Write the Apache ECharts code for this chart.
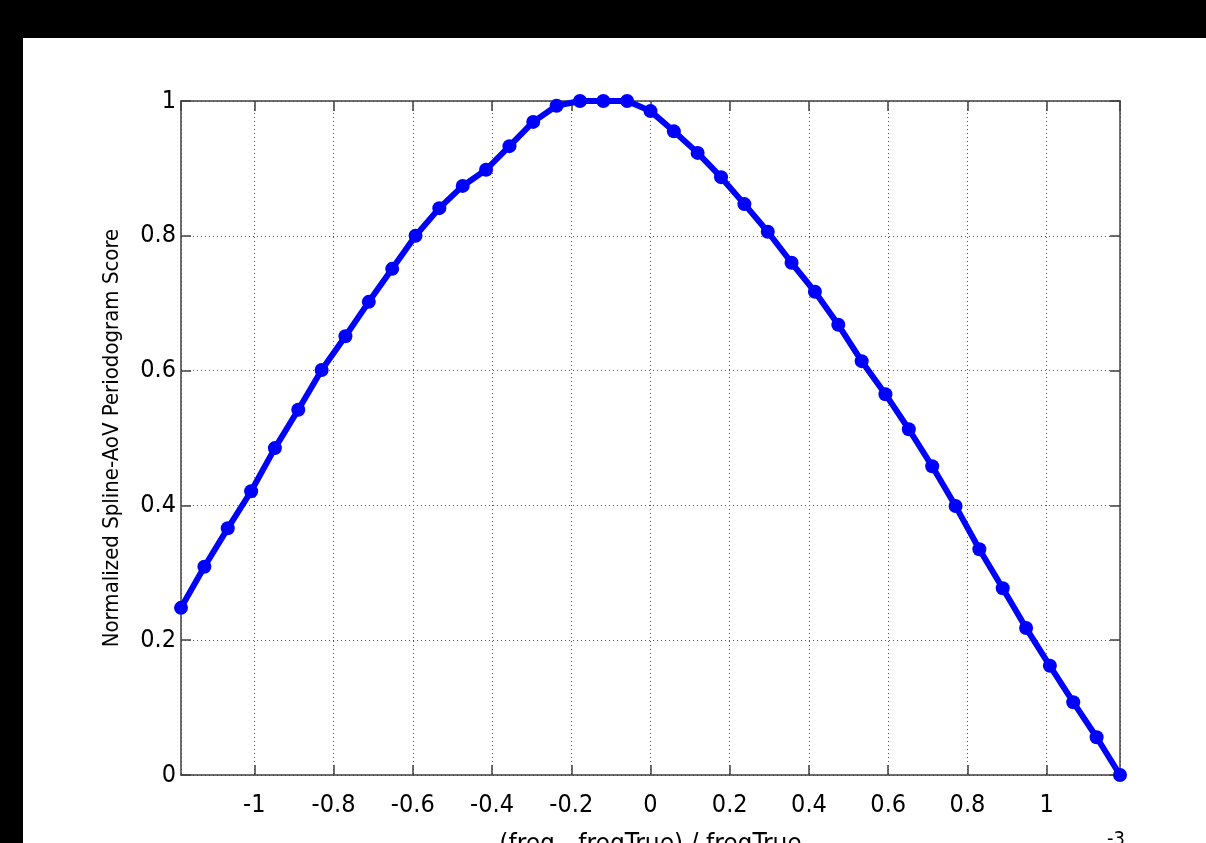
<!DOCTYPE html>
<html>
<head>
    <meta charset="utf-8">
    <title>Spline-AoV Periodogram</title>
    <script src="https://cdn.jsdelivr.net/npm/echarts@6/dist/echarts.min.js"></script>
    <style>
        html, body { margin: 0; padding: 0; background: #000; overflow: hidden; }
        #main { position: absolute; left: 23px; top: 38px; width: 1183px; height: 805px; background: #fff; }
    </style>
</head>
<body>
    <div id="main"></div>

    <script>
        // x values (units of 1e-3) and normalized scores
        var freqOffset = [
            -1.185, -1.126, -1.067, -1.008, -0.948, -0.889, -0.830, -0.770, -0.711, -0.652,
            -0.593, -0.533, -0.474, -0.415, -0.356, -0.296, -0.237, -0.178, -0.119, -0.059,
            0.000, 0.059, 0.119, 0.178, 0.237, 0.296, 0.356, 0.415, 0.474, 0.533,
            0.593, 0.652, 0.711, 0.770, 0.830, 0.889, 0.948, 1.008, 1.067, 1.126, 1.185
        ];
        var score = [
            0.248, 0.309, 0.366, 0.421, 0.485, 0.542, 0.601, 0.651, 0.702, 0.751,
            0.800, 0.841, 0.874, 0.898, 0.933, 0.969, 0.993, 1.000, 1.000, 1.000,
            0.985, 0.955, 0.923, 0.887, 0.847, 0.806, 0.760, 0.717, 0.668, 0.614,
            0.565, 0.513, 0.458, 0.399, 0.335, 0.277, 0.218, 0.162, 0.108, 0.056, 0.000
        ];
        var xMin = -1.185, xMax = 1.185;

        var myChart = echarts.init(document.getElementById('main'));

        var font = '"Liberation Sans Narrow", "DejaVu Sans Condensed", "Liberation Sans", sans-serif';
        var axisColor = '#404040';

        var points = freqOffset.map(function (x, i) { return [x, score[i]]; });

        var option = {
            animation: false,
            backgroundColor: '#fff',
            grid: { left: 158, right: 86, top: 63, bottom: 68, outerBoundsMode: 'none', containLabel: false },
            xAxis: [
                {
                    type: 'value',
                    min: xMin,
                    max: xMax,
                    splitNumber: 12,
                    name: '(freq - freqTrue) / freqTrue',
                    nameLocation: 'middle',
                    nameGap: 57,
                    nameTextStyle: { fontFamily: font, fontSize: 26, color: '#000' },
                    axisLine: { onZero: false, lineStyle: { color: axisColor, width: 1.5 } },
                    axisTick: { inside: true, length: 10, lineStyle: { color: axisColor, width: 1.5 } },
                    axisLabel: {
                        showMinLabel: false, showMaxLabel: false,
                        margin: 18, fontFamily: font, fontSize: 25, color: '#000'
                    },
                    splitLine: { show: true, lineStyle: { color: '#555', type: [1, 3], width: 1 } }
                },
                {
                    type: 'value',
                    position: 'top',
                    min: xMin,
                    max: xMax,
                    splitNumber: 12,
                    axisLine: { onZero: false, lineStyle: { color: axisColor, width: 1.5 } },
                    axisTick: { inside: true, length: 10, lineStyle: { color: axisColor, width: 1.5 } },
                    axisLabel: { show: false },
                    splitLine: { show: false }
                }
            ],
            yAxis: [
                {
                    type: 'value',
                    min: 0,
                    max: 1,
                    interval: 0.2,
                    name: 'Normalized Spline-AoV Periodogram Score',
                    nameLocation: 'middle',
                    nameGap: 58,
                    nameTextStyle: { fontFamily: font, fontSize: 22, color: '#000' },
                    axisLine: { onZero: false, lineStyle: { color: axisColor, width: 1.5 } },
                    axisTick: { inside: true, length: 10, lineStyle: { color: axisColor, width: 1.5 } },
                    axisLabel: { margin: 5, fontFamily: font, fontSize: 25, color: '#000' },
                    splitLine: { show: true, lineStyle: { color: '#555', type: [1, 3], width: 1 } }
                },
                {
                    type: 'value',
                    position: 'right',
                    min: 0,
                    max: 1,
                    interval: 0.2,
                    axisLine: { onZero: false, lineStyle: { color: axisColor, width: 1.5 } },
                    axisTick: { inside: true, length: 10, lineStyle: { color: axisColor, width: 1.5 } },
                    axisLabel: { show: false },
                    splitLine: { show: false }
                }
            ],
            graphic: [
                {
                    type: 'text',
                    left: 1084,
                    top: 792,
                    style: { text: '-3', fontFamily: font, fontSize: 20, fill: '#000' }
                }
            ],
            series: [
                {
                    name: 'score',
                    type: 'line',
                    data: points,
                    symbol: 'circle',
                    symbolSize: 14,
                    lineStyle: { color: '#0000ff', width: 6 },
                    itemStyle: { color: '#0000ff' },
                    clip: false,
                    z: 5
                }
            ]
        };

        myChart.setOption(option);
    </script>
</body>
</html>
